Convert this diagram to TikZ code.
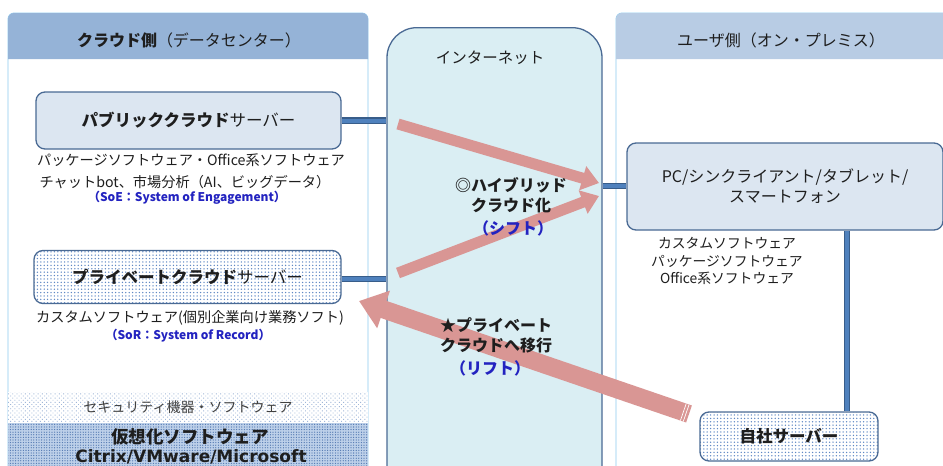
\documentclass[tikz,border=0pt]{standalone}
\usepackage{fontspec}
\setmainfont{Noto Sans CJK JP}
\newfontfamily\latfont{DejaVu Sans}
\usetikzlibrary{patterns,patterns.meta,arrows.meta,calc}
\definecolor{hdrL}{HTML}{95B3D7}
\definecolor{hdrR}{HTML}{B8CCE4}
\definecolor{panelline}{HTML}{8DCBF0}
\definecolor{boxfill}{HTML}{DCE6F1}
\definecolor{boxline}{HTML}{4A6A94}
\definecolor{netfill}{HTML}{DAEEF3}
\definecolor{arrowpink}{HTML}{D99694}
\definecolor{conn}{HTML}{4F81BD}
\definecolor{connd}{HTML}{385D8A}
\definecolor{dotc}{HTML}{5F88C4}
\definecolor{lightdot}{HTML}{9FB6D8}
\definecolor{bandfill}{HTML}{BDD0E9}
\definecolor{banddot}{HTML}{4F76B0}
\definecolor{bluetxt}{HTML}{2323C0}
\definecolor{txt}{HTML}{1E1E1E}
\tikzset{
  srvbox/.style={draw=boxline, line width=1.3pt, rounded corners=9pt, fill=boxfill, text=txt},
  dotbox/.style={draw=boxline, line width=1.3pt, rounded corners=9pt, preaction={fill=white}, pattern={Dots[distance=3.4pt, radius=0.75pt]}, pattern color=dotc, text=txt},
  linkline/.style={draw=connd, line width=1.2pt, double=conn, double distance=4pt},
  fatarrow/.style={draw=arrowpink, line width=11pt, -{Triangle[width=24pt,length=17pt]}},
  bigarrow/.style={draw=arrowpink, line width=18pt, -{Triangle[width=38pt,length=26pt]}},
  lbl/.style={text=txt, align=center, inner sep=0pt, font=\fontsize{14}{17}\selectfont},
  bluelbl/.style={text=bluetxt, align=center, inner sep=0pt},
}
\begin{document}
\begin{tikzpicture}[x=1pt,y=-1pt]
\useasboundingbox (0,0) rectangle (943,466);
\clip (0,0) rectangle (943,466);
\fill[white] (0,0) rectangle (943,466);

% left panel
\draw[draw=panelline, line width=0.8pt, fill=white] (8,500) -- (8,20) [rounded corners=6pt] -- (8,13) -- (368,13) [sharp corners] -- (368,500);
\fill[hdrL, rounded corners=6pt] (8,59) -- (8,13) -- (368,13) [sharp corners] -- (368,59) -- cycle;
\node[lbl, font=\fontsize{16}{19}\selectfont] (hdrl) at (189,40) {\textbf{クラウド側}（データセンター）};

% security band
\path[preaction={fill=white}, pattern={Dots[distance=3pt, angle=45, radius=0.65pt]}, pattern color=lightdot] (8,392) rectangle (368,423);
\node[lbl, text=black!75] (sec) at (188,407) {セキュリティ機器・ソフトウェア};
% virtualization band
\path[preaction={fill=bandfill}, pattern={Dots[distance=2.6pt, radius=0.65pt]}, pattern color=banddot] (8,423) rectangle (368,470);
\node[lbl, font=\fontsize{17.5}{20}\selectfont\bfseries] (virt1) at (190,437) {仮想化ソフトウェア};
\node[lbl, font=\latfont\fontsize{17}{20}\selectfont\bfseries] (virt2) at (191,457) {Citrix/VMware/Microsoft};

% right panel
\draw[draw=panelline, line width=0.8pt, fill=white] (616,500) -- (616,20) [rounded corners=6pt] -- (616,13) -- (960,13);
\fill[hdrR, rounded corners=6pt] (616,59) -- (616,13) -- (960,13) [sharp corners] -- (960,59) -- cycle;
\node[lbl, font=\fontsize{16}{19}\selectfont] (hdrr) at (781,40) {ユーザ側（オン・プレミス）};

% internet
\node[draw=boxline, line width=1.3pt, fill=netfill, rounded corners=30pt, minimum width=215pt, minimum height=470pt, anchor=north] (net) at (494.5,27) {};
\node[lbl, font=\fontsize{15.5}{18}\selectfont] (nettitle) at (490,58) {インターネット};

% servers
\node[srvbox, minimum width=305pt, minimum height=57pt, font=\fontsize{16.5}{19}\selectfont] (pub) at (188.5,120.5) {\textbf{パブリッククラウド}サーバー};
\node[lbl, font=\fontsize{14.2}{17}\selectfont] (pubt1) at (191,160) {パッケージソフトウェア・Office系ソフトウェア};
\node[lbl, font=\fontsize{14.2}{17}\selectfont] (pubt2) at (185,182) {チャットbot、市場分析（AI、ビッグデータ）};
\node[bluelbl, font=\fontsize{12}{14}\selectfont\bfseries] (pubt3) at (187,198) {（SoE：System of Engagement）};

\node[dotbox, minimum width=307pt, minimum height=53pt, font=\fontsize{16.5}{19}\selectfont] (priv) at (187.5,277) {\textbf{プライベートクラウド}サーバー};
\node[lbl, font=\fontsize{14.2}{17}\selectfont] (privt1) at (190,318) {カスタムソフトウェア(個別企業向け業務ソフト)};
\node[bluelbl, font=\fontsize{12}{14}\selectfont\bfseries] (privt2) at (188,336) {（SoR：System of Record）};

\node[srvbox, minimum width=316pt, minimum height=87pt, align=center, font=\fontsize{16}{20}\selectfont] (pc) at (785,186.5) {PC/シンクライアント/タブレット/\\スマートフォン};
\node[lbl, font=\fontsize{13.8}{17.5}\selectfont] (pct) at (727,261) {カスタムソフトウェア\\パッケージソフトウェア\\Office系ソフトウェア};

\node[dotbox, minimum width=178pt, minimum height=49pt, font=\fontsize{16.5}{19}\selectfont\bfseries] (own) at (789,436.5) {自社サーバー};

% connectors
\draw[linkline] (pub.east) -- (pub.east -| net.west);
\draw[linkline] (priv.east |- 0,279) -- (net.west |- 0,279);
\draw[linkline] (net.east |- 0,186) -- (pc.west |- 0,186);
\draw[linkline] (pc.south -| 847,0) -- (own.north -| 847,0);

% arrows
\coordinate (a1t) at (398,124);
\coordinate (a1h) at (599,183);
\coordinate (a2t) at (398,273);
\coordinate (a2h) at (599,196);
\coordinate (a3t) at (689,414);
\coordinate (a3h) at (359,301);
\draw[fatarrow] (a1t) -- (a1h);
\draw[fatarrow] (a2t) -- (a2h);
\draw[bigarrow] (a3t) -- (a3h);
\foreach \d in {3,6}{
  \draw[white, line width=0.7pt] ($($(a3t)!\d pt!(a3h)$)!9pt!90:(a3h)$) -- ($($(a3t)!\d pt!(a3h)$)!9pt!-90:(a3h)$);
}

% internet labels
\node[lbl, font=\fontsize{16}{20}\selectfont\bfseries] (hyb) at (511,195) {◎ハイブリッド\\クラウド化};
\node[bluelbl, font=\fontsize{16}{18}\selectfont\bfseries] (shift) at (513,228) {（シフト）};
\node[lbl, font=\fontsize{16}{20}\selectfont\bfseries] (lift) at (496,335) {★プライベート\\クラウドへ移行};
\node[bluelbl, font=\fontsize{16}{18}\selectfont\bfseries] (liftb) at (490,368) {（リフト）};
\end{tikzpicture}
\end{document}
